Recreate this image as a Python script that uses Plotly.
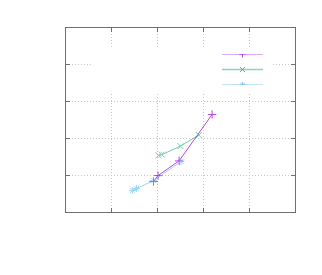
import plotly.graph_objects as go

# data
purple_x = [1.91, 2.01, 2.47, 3.19]
purple_y = [0.83, 0.99, 1.39, 2.65]
green_x = [2.02, 2.09, 2.50, 2.90]
green_y = [1.54, 1.56, 1.79, 2.09]
blue_x = [1.45, 1.54, 1.91, 2.51]
blue_y = [0.58, 0.64, 0.85, 1.37]

x_ticks = [0, 1, 2, 3, 4, 5]
y_ticks = [0, 1, 2, 3, 4, 5]

# key layout
key_rows = [2, 1, 0]
key_line = [0, 1]
key_mark = [0.5]

colors = ["#9400d3", "#009e73", "#56b4e9"]
symbols = ["cross-thin", "x-thin", "asterisk"]
line_opacity = [0.7, 0.55, 0.55]
key_width = [1.2, 1.5, 2]
key_opacity = [0.65, 0.45, 0.35]

OFF = 8  # page body margin
W, H = 322 - 2 * OFF, 275 - 2 * OFF
L, R, T, B = 66 - OFF, 295 - OFF, 28 - OFF, 212 - OFF
pw, ph = R - L, B - T
XMAX, YMAX = 5, 5

fig = go.Figure()
series = [(purple_x, purple_y), (green_x, green_y), (blue_x, blue_y)]
for (xs, ys), c, s, op in zip(series, colors, symbols, line_opacity):
    fig.add_trace(go.Scatter(x=xs, y=ys, mode="lines+markers",
                             line=dict(color=c, width=1),
                             marker=dict(symbol=s, size=6, color=c, line=dict(color=c, width=1)),
                             opacity=op, showlegend=False, hoverinfo="skip"))

for row, c, s, kw, ko in zip(key_rows, colors, symbols, key_width, key_opacity):
    fig.add_trace(go.Scatter(x=key_line, y=[row, row], mode="lines", xaxis="x2", yaxis="y2",
                             line=dict(color=c, width=kw), opacity=ko,
                             showlegend=False, hoverinfo="skip"))
    fig.add_trace(go.Scatter(x=key_mark, y=[row], mode="markers", xaxis="x2", yaxis="y2",
                             marker=dict(symbol=s, size=5, color=c, line=dict(color=c, width=1)),
                             opacity=0.7, showlegend=False, hoverinfo="skip"))

def px_x(p):
    return (p - OFF - L) / pw

def px_y(p):
    return (B - (p - OFF)) / ph

# opaque key box hiding the grid
fig.add_shape(type="rect", xref="x", yref="y",
              x0=px_x(93) * XMAX, x1=px_x(272) * XMAX,
              y0=px_y(92) * YMAX, y1=px_y(47) * YMAX,
              fillcolor="white", line=dict(width=0), layer="between")

axis_common = dict(showline=True, linecolor="#707070", linewidth=1, mirror="ticks",
                   ticks="inside", ticklen=4, tickcolor="#707070", tickwidth=1,
                   showgrid=True, gridcolor="#c8c8c8", griddash="1px,2px", gridwidth=1,
                   zeroline=False, showticklabels=False)

fig.update_layout(
    width=W, height=H,
    margin=dict(l=L, r=W - R, t=T, b=H - B),
    paper_bgcolor="white", plot_bgcolor="white",
    xaxis=dict(range=[0, XMAX], tickvals=x_ticks, **axis_common),
    yaxis=dict(range=[0, YMAX], tickvals=y_ticks, **axis_common),
    xaxis2=dict(domain=[px_x(222), px_x(263)], range=[0, 1], visible=False, anchor="y2"),
    yaxis2=dict(domain=[px_y(85), px_y(54)], range=[0, 2], visible=False, anchor="x2"),
    showlegend=False,
)

fig.write_html("out.html")
